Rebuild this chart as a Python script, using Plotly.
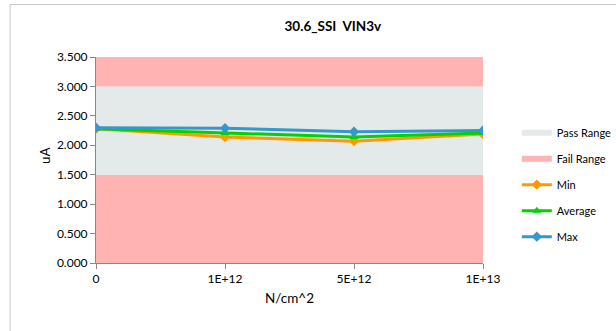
import plotly.graph_objects as go

categories = ["0", "1E+12", "5E+12", "1E+13"]
min_vals = [2.28, 2.14, 2.07, 2.19]
avg_vals = [2.28, 2.21, 2.14, 2.21]
max_vals = [2.30, 2.29, 2.23, 2.25]
fail_low = [1.5, 1.5, 1.5, 1.5]
pass_high = [3.0, 3.0, 3.0, 3.0]
fail_high = [3.5, 3.5, 3.5, 3.5]

PASS_COLOR = "#E4EAEA"
FAIL_COLOR = "#FFB3B3"
FONT = "Lato"

fig = go.Figure()

fig.add_trace(go.Scatter(x=categories, y=fail_low, mode="none", fill="tozeroy",
                         fillcolor=FAIL_COLOR, name="Fail Range", legendrank=2,
                         legendgroup="fail", hoverinfo="skip"))
fig.add_trace(go.Scatter(x=categories, y=pass_high, mode="none", fill="tonexty",
                         fillcolor=PASS_COLOR, name="Pass Range", legendrank=1,
                         legendgroup="pass", hoverinfo="skip"))
fig.add_trace(go.Scatter(x=categories, y=fail_high, mode="none", fill="tonexty",
                         fillcolor=FAIL_COLOR, showlegend=False, hoverinfo="skip"))

fig.add_trace(go.Scatter(x=categories, y=min_vals, mode="lines+markers", name="Min",
                         line=dict(color="#FF9900", width=3), legendgroup="min",
                         marker=dict(symbol="diamond", size=8), legendrank=3))
fig.add_trace(go.Scatter(x=categories, y=avg_vals, mode="lines+markers", name="Average",
                         line=dict(color="#00D400", width=3), legendgroup="avg",
                         marker=dict(symbol="triangle-up", size=8), legendrank=4))
fig.add_trace(go.Scatter(x=categories, y=max_vals, mode="lines+markers", name="Max",
                         line=dict(color="#3399CC", width=3), legendgroup="max",
                         marker=dict(symbol="diamond", size=8), legendrank=5))

fig.update_layout(
    width=616, height=331,
    margin=dict(l=96, r=133, t=57, b=68, autoexpand=False),
    paper_bgcolor="white", plot_bgcolor="white",
    font=dict(family=FONT, size=11, color="#000000"),
    title=dict(text="<b>30.6_SSI  VIN3v</b>", x=0.612, xanchor="center",
               xref="paper", y=0.922, yanchor="middle", font=dict(size=13.5)),
    showlegend=True,
    legend=dict(xref="container", yref="container", x=0.839, y=0.643,
                xanchor="left", yanchor="top", traceorder="grouped",
                font=dict(size=11), tracegroupgap=7,
                bgcolor="rgba(0,0,0,0)"),
    xaxis=dict(type="category", range=[0, 3], showgrid=False,
               showline=True, linecolor="#888888", linewidth=1,
               ticks="outside", ticklen=5, tickcolor="#888888",
               tickfont=dict(size=12),
               title=dict(text="N/cm^2", font=dict(size=13.5), standoff=8)),
    yaxis=dict(range=[0, 3.5], dtick=0.5, tickformat=".3f", showgrid=False,
               showline=True, linecolor="#888888", linewidth=1,
               ticks="outside", ticklen=5, tickcolor="#888888",
               tickfont=dict(size=12), zeroline=False),
    annotations=[
        dict(text="uA", xref="paper", yref="paper", x=(45 - 96) / 387,
             y=(263 - 155) / 206, showarrow=False, textangle=-90,
             xanchor="center", yanchor="middle", font=dict(size=13.5)),
    ],
    shapes=[
        dict(type="line", xref="paper", yref="paper", x0=-0.222, x1=1.4,
             y0=1.255, y1=1.255, line=dict(color="#C8C8C8", width=1)),
        dict(type="line", xref="paper", yref="paper", x0=-0.222, x1=-0.222,
             y0=1.255, y1=-0.4, line=dict(color="#C8C8C8", width=1)),
    ],
)

# drop the browser's default body margin so the figure sits at the page corner
fig.write_html("out.html", config={"displayModeBar": False},
               post_script="document.body.style.margin='0';")
